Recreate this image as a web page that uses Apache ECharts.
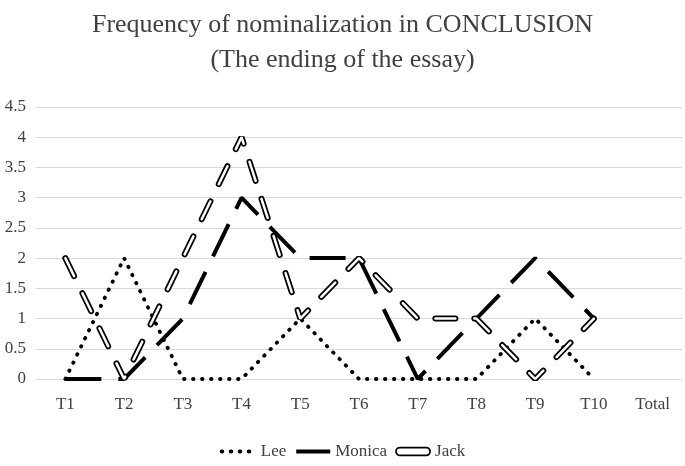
<!DOCTYPE html>
<html>
<head>
<meta charset="utf-8">
<script src="https://cdn.jsdelivr.net/npm/echarts@6/dist/echarts.min.js"></script>
<style>html,body{margin:0;padding:0;background:#fff;}#c{width:685px;height:466px;}</style>
</head>
<body>
<div id="c"></div>
<script>
const categories = ['T1','T2','T3','T4','T5','T6','T7','T8','T9','T10','Total'];
const lee    = [0, 2, 0, 0, 1, 0, 0, 0, 1, 0, null];
const monica = [0, 0, 1, 3, 2, 2, 0, 1, 2, 1, null];
const jack   = [2, 0, 2, 4, 1, 2, 1, 1, 0, 1, null];
const yTicks = [0, 0.5, 1, 1.5, 2, 2.5, 3, 3.5, 4, 4.5];

const serif = 'Liberation Serif';
const chart = echarts.init(document.getElementById('c'), null, {renderer: 'canvas'});
chart.setOption({
  animation: false,
  backgroundColor: '#fff',
  title: {
    text: 'Frequency of nominalization in CONCLUSION\n(The ending of the essay)',
    left: 'center', top: 3,
    textStyle: {fontFamily: serif, fontSize: 26, fontWeight: 'normal', color: '#404040', lineHeight: 35}
  },
  legend: {
    data: [
      {name: 'Lee', lineStyle: {width: 4, type: [0.5, 8.5], cap: 'round', color: '#000'}},
      {name: 'Monica', lineStyle: {width: 4, type: 'solid', color: '#000'}},
      {name: 'Jack', icon: 'path://M3,0 L23,0 A3,3 0 0 1 23,6 L3,6 A3,3 0 0 1 3,0 Z',
       itemStyle: {color: '#fff', borderColor: '#000', borderWidth: 1.8, opacity: 1}}
    ],
    bottom: 1, left: 'center',
    itemWidth: 34, itemHeight: 10, itemGap: 8,
    itemStyle: {opacity: 0},
    textStyle: {fontFamily: serif, fontSize: 17, color: '#404040'}
  },
  grid: {left: 36, right: 3, top: 107, bottom: 87},
  xAxis: {
    type: 'category', data: categories, boundaryGap: true,
    axisLine: {show: true, lineStyle: {color: '#d9d9d9', width: 1}},
    axisTick: {show: false},
    axisLabel: {fontFamily: serif, fontSize: 17, color: '#404040', margin: 17}
  },
  yAxis: {
    type: 'value', min: yTicks[0], max: yTicks[yTicks.length - 1], interval: 0.5,
    axisLine: {show: false}, axisTick: {show: false},
    splitLine: {lineStyle: {color: '#d9d9d9', width: 1}},
    axisLabel: {fontFamily: serif, fontSize: 17, color: '#404040', margin: 10}
  },
  series: [
    {name: 'Lee', type: 'line', data: lee, showSymbol: false, symbol: 'none',
     lineStyle: {color: '#000', width: 3.8, type: [0.5, 8.5], cap: 'round'}, itemStyle: {color: '#000'}},
    {name: 'Monica', type: 'line', data: monica, showSymbol: false, symbol: 'none',
     lineStyle: {color: '#000', width: 4, type: [36, 17], cap: 'butt'}, itemStyle: {color: '#000'}},
    {name: 'Jack', type: 'line', data: jack, showSymbol: false, symbol: 'none',
     lineStyle: {color: '#000', width: 6, type: [20, 19], cap: 'round'}, itemStyle: {color: '#000'}},
    {name: 'Jack-inner', type: 'line', data: jack, showSymbol: false, symbol: 'none', silent: true,
     lineStyle: {color: '#fff', width: 2.5, type: [20, 19], cap: 'round'}, itemStyle: {color: '#fff'}}
  ]
});
</script>
</body>
</html>
